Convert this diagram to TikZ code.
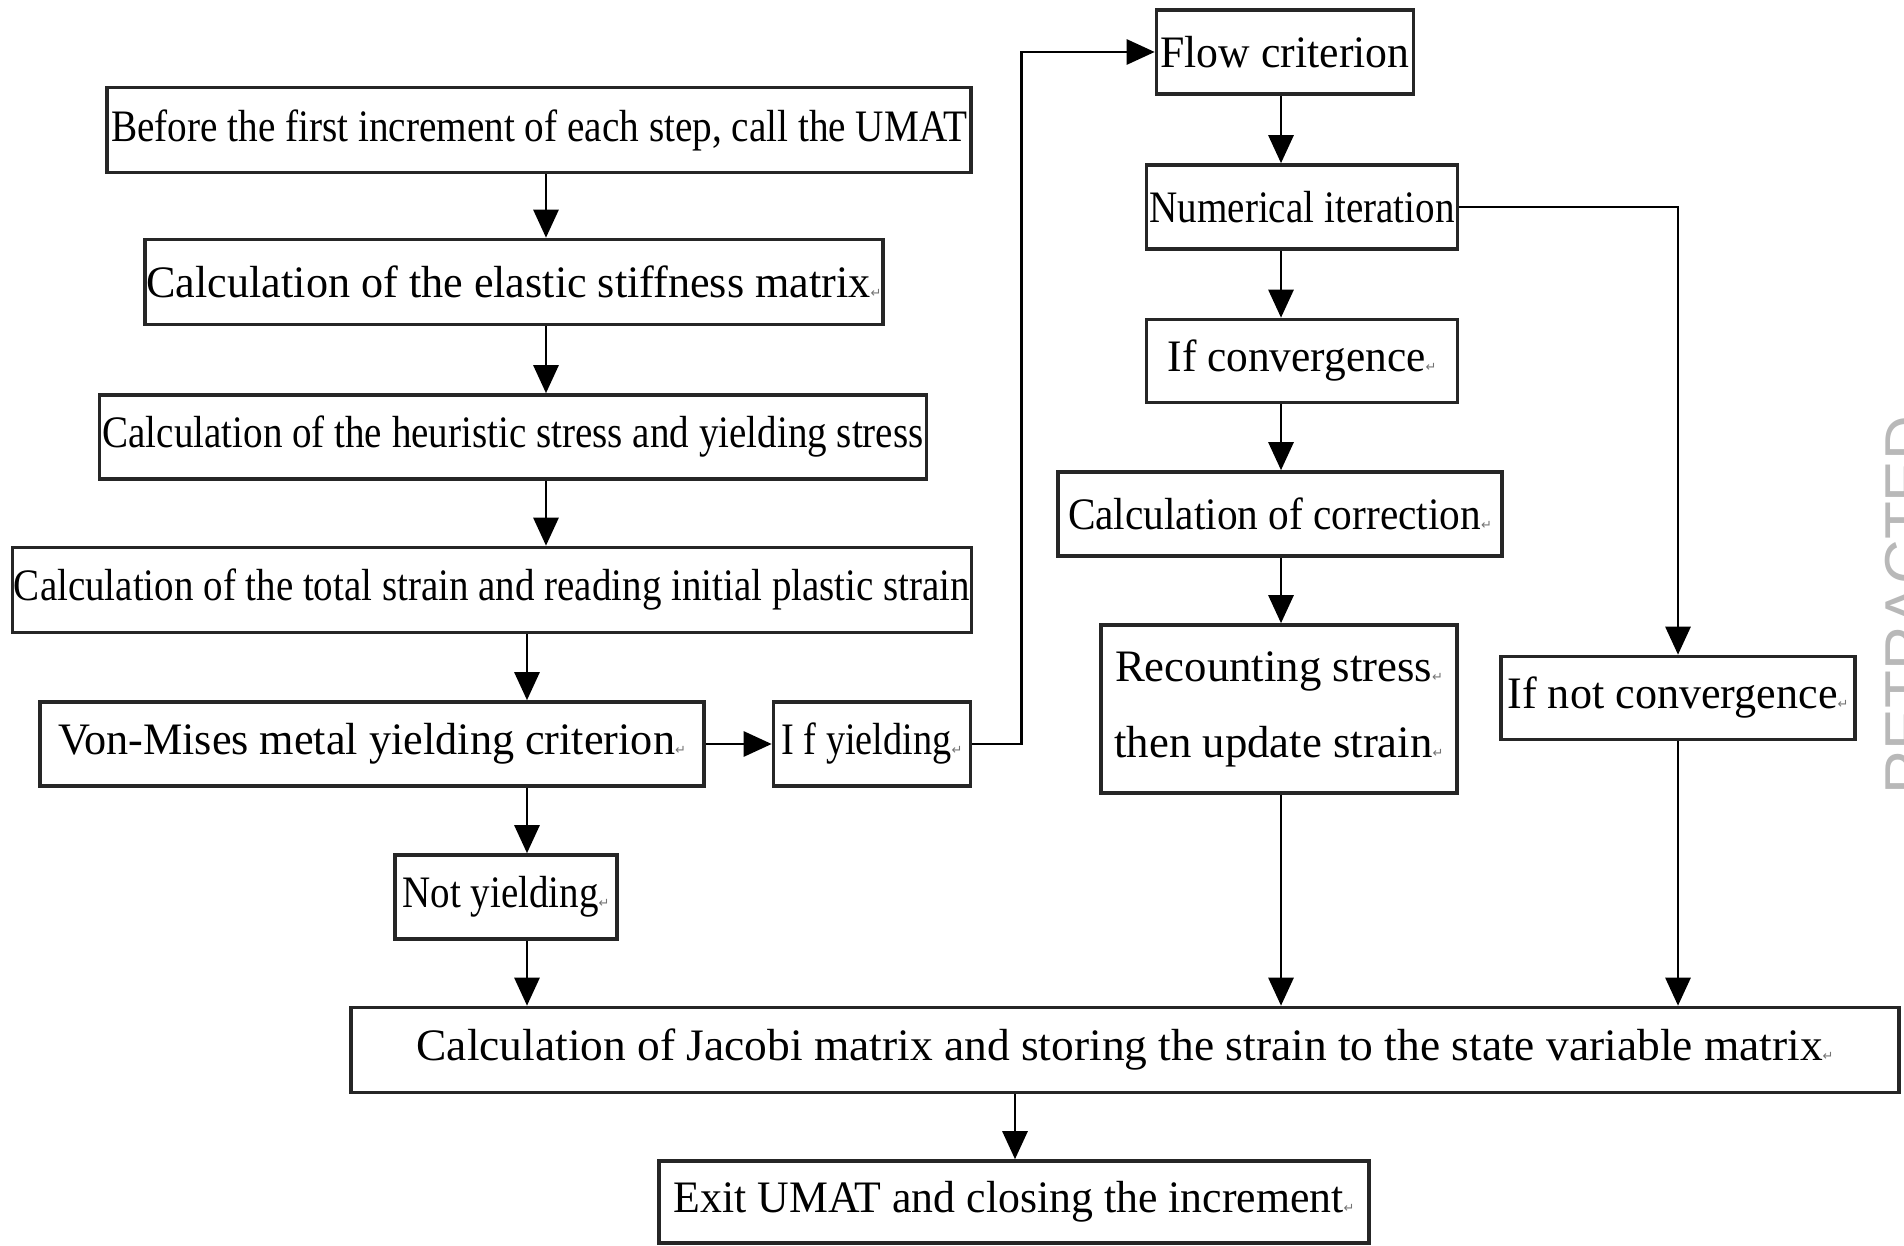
\documentclass[tikz,border=0pt]{standalone}
\usepackage{fontspec}
\setmainfont{Liberation Serif}
\newfontfamily\symfont{DejaVu Sans}
\newfontfamily\wmfont{Liberation Sans}
\usetikzlibrary{arrows.meta}
\newcommand{\rmk}{{\symfont\fontsize{13}{13}\selectfont\color{black!55}↵}}
\newcommand{\fitw}[2]{\resizebox{#1pt}{\height}{#2}}
\begin{document}
\begin{tikzpicture}[x=1pt,y=-1pt,
  box/.style={draw=black!85, line width=3.6pt, inner sep=0pt, align=center,
              font=\fontsize{45}{52}\selectfont},
  arr/.style={line width=2.8pt, -{Triangle[width=25pt,length=28pt]}},
  wm/.style={rotate=90, anchor=north west, inner sep=0pt, text=black!28,
             font=\wmfont\fontsize{62}{62}\selectfont}]
\useasboundingbox (0,0) rectangle (1904,1246);

% columns for connectors
\coordinate (cA) at (546,0);
\coordinate (cB) at (527,0);
\coordinate (cC) at (1281,0);
\coordinate (cE) at (1015,0);

% left column
\node[box, minimum width=864pt, minimum height=85pt] (b1) at (539,130)
  {\fitw{856}{Before the first increment of each step, call the UMAT}};
\node[box, minimum width=738pt, minimum height=85pt] (b2) at (514,282)
  {\fitw{724}{Calculation of the elastic stiffness matrix}\rmk};
\node[box, minimum width=827pt, minimum height=84pt] (b3) at (513,437)
  {\fitw{821}{Calculation of the heuristic stress and yielding stress}};
\node[box, minimum width=959pt, minimum height=85pt] (b4) at (492,590)
  {\fitw{956}{Calculation of the total strain and reading initial plastic strain}};
\node[box, minimum width=664pt, minimum height=84pt] (b5) at (372,744)
  {\fitw{617}{Von-Mises metal yielding criterion}\rmk};
\node[box, minimum width=197pt, minimum height=84pt] (b6) at (872,744)
  {\fitw{170}{I f yielding}\rmk};
\node[box, minimum width=222pt, minimum height=84pt] (b13) at (506,897)
  {\fitw{196}{Not yielding}\rmk};

% right columns
\node[box, minimum width=257pt, minimum height=84pt] (b7) at (1285,52)
  {\fitw{249}{Flow criterion}};
\node[box, minimum width=311pt, minimum height=84pt] (b8) at (1302,207)
  {\fitw{305}{Numerical iteration}};
\node[box, minimum width=311pt, minimum height=83pt] (b9) at (1302,361)
  {\fitw{258}{If convergence}\rmk};
\node[box, minimum width=444pt, minimum height=84pt] (b10) at (1280,514)
  {\fitw{413}{Calculation of correction}\rmk};
\node[box, minimum width=356pt, minimum height=168pt] (b11) at (1279,709)
  {\fitw{317}{Recounting stress}\rmk\\[24pt]\fitw{318}{then update strain}\rmk};
\node[box, minimum width=354pt, minimum height=83pt] (b12) at (1678,698)
  {\fitw{330}{If not convergence}\rmk};

% bottom
\node[box, minimum width=1548pt, minimum height=85pt] (b14) at (1125,1050)
  {\fitw{1406}{Calculation of Jacobi matrix and storing the strain to the state variable matrix}\rmk};
\node[box, minimum width=710pt, minimum height=82pt] (b15) at (1014,1202)
  {\fitw{670}{Exit UMAT and closing the increment}\rmk};

% watermark
\node[wm] (wmk) at (1885,795) {RETRACTED};

% connectors, left column
\draw[arr] (b1.south -| cA) -- (b2.north -| cA);
\draw[arr] (b2.south -| cA) -- (b3.north -| cA);
\draw[arr] (b3.south -| cA) -- (b4.north -| cA);
\draw[arr] (b4.south -| cB) -- (b5.north -| cB);
\draw[arr] (b5.south -| cB) -- (b13.north -| cB);
\draw[arr] (b13.south -| cB) -- (b14.north -| cB);
\draw[arr] (b5.east) -- (b6.west);
\draw[arr] (b6.east) -- ++(49,0) |- (b7.west);

% connectors, right column
\draw[arr] (b7.south -| cC) -- (b8.north -| cC);
\draw[arr] (b8.south -| cC) -- (b9.north -| cC);
\draw[arr] (b9.south -| cC) -- (b10.north -| cC);
\draw[arr] (b10.south -| cC) -- (b11.north -| cC);
\draw[arr] (b11.south -| cC) -- (b14.north -| cC);
\draw[arr] (b8.east) -| (b12.north);
\draw[arr] (b12.south) -- (b12.south |- b14.north);
\draw[arr] (b14.south -| cE) -- (b15.north -| cE);
\end{tikzpicture}
\end{document}
